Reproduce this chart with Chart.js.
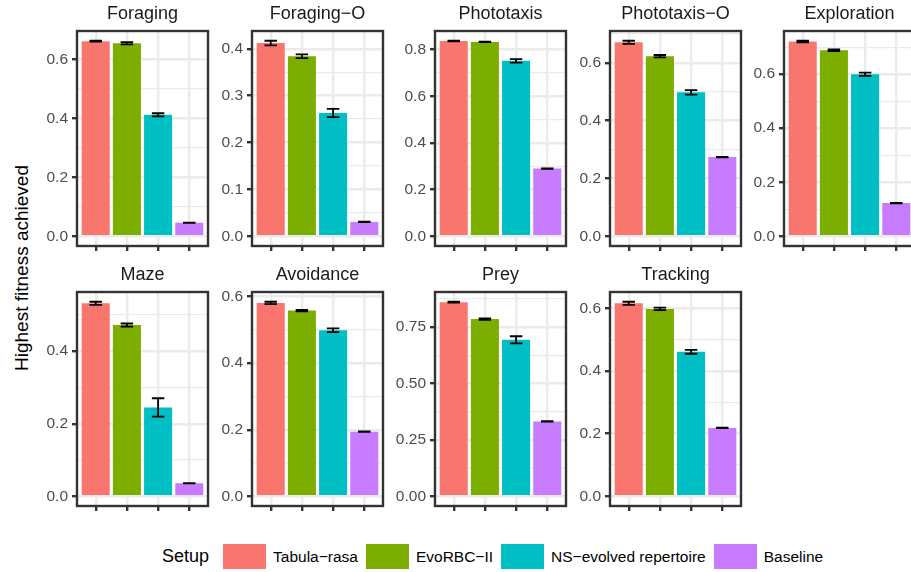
<!DOCTYPE html>
<html>
<head>
<meta charset="utf-8">
<script src="https://cdn.jsdelivr.net/npm/chart.js@4.4.1/dist/chart.umd.min.js"></script>
<style>
  html, body { margin: 0; padding: 0; background: #ffffff; overflow: hidden; width: 911px; height: 572px; }
  #wrap { position: relative; width: 911px; height: 572px; font-family: "Liberation Sans", Arial, sans-serif; }
  #wrap canvas { position: absolute; }
  #ytitle { position: absolute; left: 22px; top: 268px; transform: translate(-50%, -50%) rotate(-90deg);
            font-size: 19px; white-space: nowrap; color: #000000; }
  #legend { position: absolute; left: 162px; top: 544px; height: 25px; display: flex; align-items: center; white-space: nowrap; }
  #legend .ltitle { font-size: 18px; color: #000000; margin-right: 14px; }
  #legend .key { width: 43px; height: 25px; display: inline-block; }
  #legend .lab { font-size: 15.5px; color: #000000; margin-left: 7px; margin-right: 8px; }
</style>
</head>
<body>
<div id="wrap">
  <div id="ytitle">Highest fitness achieved</div>
  <div id="legend"></div>
</div>
<script>
// Tasks (one facet each) and the four controller setups
const tasks = ['Foraging', 'Foraging\u2212O', 'Phototaxis', 'Phototaxis\u2212O', 'Exploration',
               'Maze', 'Avoidance', 'Prey', 'Tracking'];
const setupNames = ['Tabula\u2212rasa', 'EvoRBC\u2212II', 'NS\u2212evolved repertoire', 'Baseline'];
const setupColors = ['#F8766D', '#7CAE00', '#00BFC4', '#C77CFF'];

// Mean highest fitness per task, and its standard error
const tabulaRasa     = [0.662, 0.412, 0.837, 0.671, 0.721, 0.532, 0.581, 0.861, 0.616];
const tabulaRasaSE   = [0.0015, 0.005, 0.001, 0.0055, 0.0028, 0.0044, 0.0037, 0.002, 0.005];
const evoRBC         = [0.655, 0.384, 0.833, 0.623, 0.689, 0.472, 0.558, 0.786, 0.598];
const evoRBCSE       = [0.0037, 0.004, 0.001, 0.0043, 0.0033, 0.0044, 0.0022, 0.0035, 0.004];
const nsRepertoire   = [0.412, 0.263, 0.752, 0.498, 0.600, 0.245, 0.499, 0.694, 0.461];
const nsRepertoireSE = [0.0054, 0.0087, 0.0075, 0.0077, 0.0059, 0.0253, 0.0057, 0.0159, 0.006];
const baseline       = [0.046, 0.0305, 0.290, 0.274, 0.123, 0.036, 0.194, 0.332, 0.218];
const baselineSE     = [0.0005, 0.0005, 0.001, 0.0008, 0.0008, 0.0005, 0.0007, 0.001, 0.0007];

// Spacing of the labelled y ticks in each facet
const tickSteps = [0.2, 0.1, 0.2, 0.2, 0.2, 0.2, 0.2, 0.25, 0.2];

const seriesMeans = [tabulaRasa, evoRBC, nsRepertoire, baseline];
const seriesSE = [tabulaRasaSE, evoRBCSE, nsRepertoireSE, baselineSE];

// Facet grid geometry (panel plot areas)
const colLeft = [77, 252, 435, 610, 784];
const rowTop = [31, 292];
const rowHeight = [215, 214];
const panelWidth = 131;
const axisWidth = 60, titleHeight = 31, bottomHeight = 16, rightPad = 4;
const FONT = '"Liberation Sans", Arial, sans-serif';

// Error bars: whiskers with caps 0.4 category units wide
const errorBars = {
  id: 'errorBars',
  afterDatasetsDraw(chart) {
    const ctx = chart.ctx;
    const xs = chart.scales.x, ys = chart.scales.y;
    const half = (xs.getPixelForValue(1.2) - xs.getPixelForValue(1));
    chart.data.datasets.forEach((ds, di) => {
      const meta = chart.getDatasetMeta(di);
      meta.data.forEach((el, i) => {
        const m = ds.data[i].y, e = ds.errors[i];
        const yTop = ys.getPixelForValue(m + e), yBot = ys.getPixelForValue(m - e);
        const x = el.x;
        ctx.save();
        ctx.strokeStyle = '#000000';
        ctx.lineWidth = 1.8;
        ctx.beginPath();
        ctx.moveTo(x - half, yTop); ctx.lineTo(x + half, yTop);
        ctx.moveTo(x - half, yBot); ctx.lineTo(x + half, yBot);
        ctx.moveTo(x, yTop); ctx.lineTo(x, yBot);
        ctx.stroke();
        ctx.restore();
      });
    });
  }
};

// Frame round each panel, drawn over the bars
const panelBorder = {
  id: 'panelBorder',
  afterDraw(chart) {
    const a = chart.chartArea, ctx = chart.ctx;
    ctx.save();
    ctx.strokeStyle = '#333333';
    ctx.lineWidth = 2.4;
    ctx.strokeRect(a.left, a.top, a.right - a.left, a.bottom - a.top);
    ctx.restore();
  }
};

const wrap = document.getElementById('wrap');

tasks.forEach((task, i) => {
  const row = i < 5 ? 0 : 1;
  const col = i < 5 ? i : i - 5;
  const canvas = document.createElement('canvas');
  const w = axisWidth + panelWidth + rightPad;
  const h = titleHeight + rowHeight[row] + bottomHeight;
  canvas.width = w; canvas.height = h;
  canvas.style.width = w + 'px'; canvas.style.height = h + 'px';
  canvas.style.left = (colLeft[col] - axisWidth) + 'px';
  canvas.style.top = (rowTop[row] - titleHeight) + 'px';
  wrap.appendChild(canvas);

  const means = seriesMeans.map(s => s[i]);
  const errs = seriesSE.map(s => s[i]);
  const hiData = Math.max(...means.map((m, j) => m + errs[j]));
  const loData = 0;
  const pad = 0.05 * (hiData - loData);
  const yMin = loData - pad, yMax = hiData + pad;
  const step = tickSteps[i];
  const decimals = step < 0.1 || step === 0.25 ? 2 : 1;

  new Chart(canvas, {
    type: 'bar',
    data: {
      datasets: [{
        data: means.map((m, j) => ({ x: j + 1, y: m })),
        errors: errs,
        backgroundColor: setupColors,
        borderWidth: 0,
        barPercentage: 0.9,
        categoryPercentage: 1
      }]
    },
    options: {
      responsive: false,
      animation: false,
      devicePixelRatio: 1,
      layout: { padding: { left: 0, right: rightPad, top: 0, bottom: 0 }, autoPadding: false },
      plugins: {
        legend: { display: false },
        tooltip: { enabled: false },
        title: {
          display: true, text: task, fullSize: false, color: '#1A1A1A',
          font: { family: FONT, size: 18, weight: 'normal', lineHeight: 1.2 },
          padding: { top: 3, bottom: 6.4 }
        }
      },
      scales: {
        x: {
          type: 'linear', min: 0.4, max: 4.6, offset: false,
          afterBuildTicks: s => { s.ticks = [1, 2, 3, 4].map(v => ({ value: v })); },
          afterFit: s => { s.height = bottomHeight; },
          ticks: { callback: () => '', autoSkip: false, padding: 0, maxRotation: 0 },
          grid: { offset: false, color: '#EBEBEB', lineWidth: 2.4, drawTicks: true,
                  tickLength: 5, tickColor: '#333333', tickWidth: 2.4 },
          border: { display: false }
        },
        y: {
          min: yMin, max: yMax,
          afterBuildTicks: s => {
            const half = step / 2;
            const out = [];
            const k0 = Math.ceil(yMin / half - 1e-9), k1 = Math.floor(yMax / half + 1e-9);
            for (let k = k0; k <= k1; k++) {
              out.push({ value: +(k * half).toFixed(6), minor: k % 2 !== 0 });
            }
            s.ticks = out;
          },
          afterFit: s => { s.width = axisWidth; },
          ticks: {
            autoSkip: false, padding: 4, color: '#4D4D4D',
            font: { family: FONT, size: 15.5 },
            callback: (v, idx, ticks) => ticks[idx].minor ? '' : Number(v).toFixed(decimals)
          },
          grid: {
            color: '#EBEBEB',
            lineWidth: c => (c.tick && c.tick.minor) ? 1.2 : 2.4,
            tickLength: 5,
            tickWidth: 2.4,
            tickColor: c => (c.tick && c.tick.minor) ? 'rgba(0,0,0,0)' : '#333333'
          },
          border: { display: false }
        }
      }
    },
    plugins: [errorBars, panelBorder]
  });
});

// Legend for the fill colours
const legend = document.getElementById('legend');
const lt = document.createElement('span');
lt.className = 'ltitle'; lt.textContent = 'Setup';
legend.appendChild(lt);
setupNames.forEach((name, j) => {
  const k = document.createElement('span');
  k.className = 'key'; k.style.background = setupColors[j];
  const l = document.createElement('span');
  l.className = 'lab'; l.textContent = name;
  legend.appendChild(k); legend.appendChild(l);
});
</script>
</body>
</html>
